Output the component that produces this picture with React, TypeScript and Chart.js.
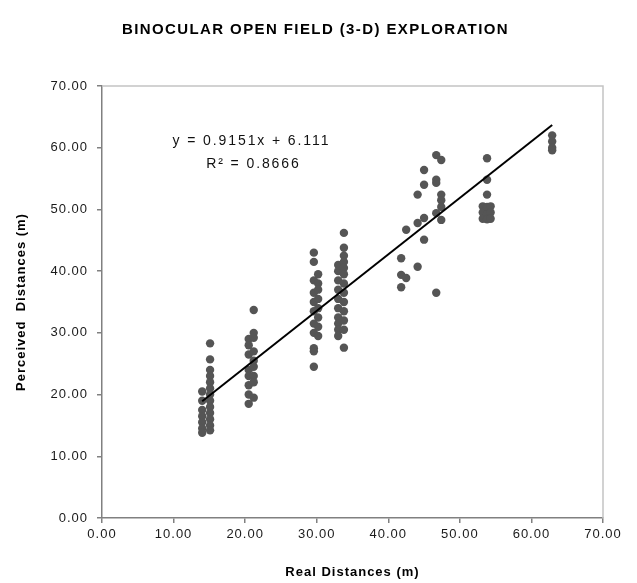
import { useEffect, useRef } from "react";
import { Chart, registerables } from "chart.js";

Chart.register(...registerables);

// Titles and axis labels
const chartTitle = "BINOCULAR OPEN FIELD (3-D) EXPLORATION";
const xAxisTitle = "Real Distances (m)";
const yAxisTitle = "Perceived  Distances (m)";

// Both axes share the same range and step
const axisMin = 0;
const axisMax = 70;
const axisStep = 10;

// Real target distances (m); each has a list of perceived distances (m)
const realDistances = [
  14.0, 15.1, 20.5, 21.2, 29.6, 30.2, 33.0, 33.8,
  41.8, 42.5, 44.1, 45.0, 46.7, 47.4, 53.2, 53.8, 54.3, 62.9,
];

const perceivedDistances = [
  [20.5, 19.0, 17.5, 16.5, 15.5, 14.5, 13.8],
  [28.3, 25.7, 24.0, 23.0, 22.0, 21.0, 20.0, 19.0, 18.0, 17.0, 16.0, 15.0, 14.2],
  [29.0, 28.0, 26.5, 24.0, 23.0, 21.5, 20.0, 18.5],
  [33.7, 30.0, 29.2, 27.0, 25.5, 24.5, 23.0, 22.0, 19.5],
  [43.0, 41.5, 38.5, 36.5, 35.0, 33.5, 31.5, 30.0, 27.5, 27.0, 24.5],
  [39.5, 38.0, 37.0, 35.5, 34.0, 32.5, 31.0, 29.5],
  [41.0, 40.0, 38.5, 37.0, 35.5, 34.0, 32.5, 31.5, 30.5, 29.5],
  [46.2, 43.8, 42.5, 41.5, 40.5, 39.5, 38.0, 36.5, 35.0, 33.5, 32.0, 30.5, 27.6],
  [42.1, 39.4, 37.4],
  [46.7, 38.9],
  [52.4, 47.8, 40.7],
  [56.4, 54.0, 48.6, 45.1],
  [58.8, 54.8, 54.3, 49.4, 36.5],
  [58.0, 52.4, 51.5, 50.4, 48.3],
  [50.5, 49.5, 48.5],
  [58.3, 54.8, 52.4, 50.4, 49.2, 48.4],
  [50.5, 49.5, 48.5],
  [62.0, 61.0, 60.0, 59.6],
];

// Least-squares trend line
const slope = 0.9151;
const intercept = 6.111;
const rSquared = 0.8666;

// Where the equation label sits, in data units
const equationAnchor = { x: 20.6, y: 61.1 };

const fontFamily = "'Liberation Sans', Arial, Helvetica, sans-serif";

const decorations = {
  id: "decorations",
  beforeDraw(chart: any) {
    chart.ctx.letterSpacing = "1px";
  },
  beforeDatasetsDraw(chart: any) {
    const { ctx, chartArea } = chart;
    ctx.save();
    ctx.strokeStyle = "#c4c4c4";
    ctx.lineWidth = 1.5;
    ctx.beginPath();
    ctx.moveTo(chartArea.left, chartArea.top);
    ctx.lineTo(chartArea.right, chartArea.top);
    ctx.lineTo(chartArea.right, chartArea.bottom);
    ctx.stroke();
    ctx.restore();
  },
  afterDraw(chart: any) {
    const { ctx, width } = chart;
    ctx.save();
    ctx.fillStyle = "#000";
    ctx.textAlign = "center";
    ctx.textBaseline = "middle";
    ctx.letterSpacing = "1.4px";
    ctx.font = `bold 15px ${fontFamily}`;
    ctx.fillText(chartTitle, width / 2 - 3, 30);

    const ex = chart.scales.x.getPixelForValue(equationAnchor.x);
    const ey = chart.scales.y.getPixelForValue(equationAnchor.y);
    ctx.letterSpacing = "1.9px";
    ctx.font = `14px ${fontFamily}`;
    ctx.fillStyle = "#111";
    ctx.fillText(`y = ${slope}x + ${intercept}`, ex + 2, ey);
    ctx.fillText(`R\u00B2 = ${rSquared}`, ex + 4, ey + 23);
    ctx.restore();
  },
};

export default function App() {
  const canvasRef = useRef<HTMLCanvasElement>(null);

  useEffect(() => {
    const canvas = canvasRef.current;
    if (!canvas) return;

    const points = realDistances.flatMap((x, i) =>
      perceivedDistances[i].map((y) => ({ x, y }))
    );
    const xFirst = Math.min(...realDistances);
    const xLast = Math.max(...realDistances);
    const trend = [xFirst, xLast].map((x) => ({ x, y: slope * x + intercept }));

    const tickFormat = (v: any) => Number(v).toFixed(2);

    const chart = new Chart(canvas, {
      type: "scatter",
      data: {
        datasets: [
          {
            type: "line",
            label: "Linear trend",
            data: trend,
            borderColor: "#000",
            borderWidth: 2,
            pointRadius: 0,
            fill: false,
            order: 0,
          } as any,
          {
            label: "Observations",
            data: points,
            pointRadius: 4.2,
            pointBackgroundColor: "#555",
            pointBorderColor: "#555",
            pointBorderWidth: 0,
            order: 1,
          },
        ],
      },
      options: {
        responsive: false,
        animation: false,
        devicePixelRatio: 1,
        layout: { padding: { top: 86, right: 34, left: 0, bottom: 0 } },
        plugins: {
          legend: { display: false },
          tooltip: { enabled: false },
          title: { display: false },
        },
        scales: {
          x: {
            type: "linear",
            min: axisMin,
            max: axisMax,
            ticks: {
              stepSize: axisStep,
              callback: tickFormat,
              font: { family: fontFamily, size: 13 },
              color: "#1a1a1a",
              padding: 4,
              maxRotation: 0,
              autoSkip: false,
            },
            grid: {
              display: true,
              drawOnChartArea: false,
              drawTicks: true,
              tickLength: 5,
              color: "#808080",
              lineWidth: 1.5,
            },
            border: { display: true, color: "#808080", width: 1.5 },
            title: {
              display: true,
              text: xAxisTitle,
              font: { family: fontFamily, size: 13, weight: "bold" },
              color: "#000",
              padding: { top: 0, bottom: 3 },
            },
            afterFit: (scale: any) => {
              scale.height = 65;
            },
          },
          y: {
            type: "linear",
            min: axisMin,
            max: axisMax,
            ticks: {
              stepSize: axisStep,
              callback: tickFormat,
              font: { family: fontFamily, size: 13 },
              color: "#1a1a1a",
              padding: 9,
              autoSkip: false,
            },
            grid: {
              display: true,
              drawOnChartArea: false,
              drawTicks: true,
              tickLength: 5,
              color: "#808080",
              lineWidth: 1.5,
            },
            border: { display: true, color: "#808080", width: 1.5 },
            title: {
              display: true,
              text: yAxisTitle,
              font: { family: fontFamily, size: 13, weight: "bold" },
              color: "#000",
              padding: { top: 14, bottom: 0 },
            },
            afterFit: (scale: any) => {
              scale.width = 102;
            },
          },
        },
      },
      plugins: [decorations],
    });

    return () => chart.destroy();
  }, []);

  return (
    <div style={{ position: "absolute", left: 0, top: 0, width: 637, height: 583 }}>
      <canvas ref={canvasRef} width={637} height={583} style={{ display: "block", width: 637, height: 583 }} />
    </div>
  );
}
